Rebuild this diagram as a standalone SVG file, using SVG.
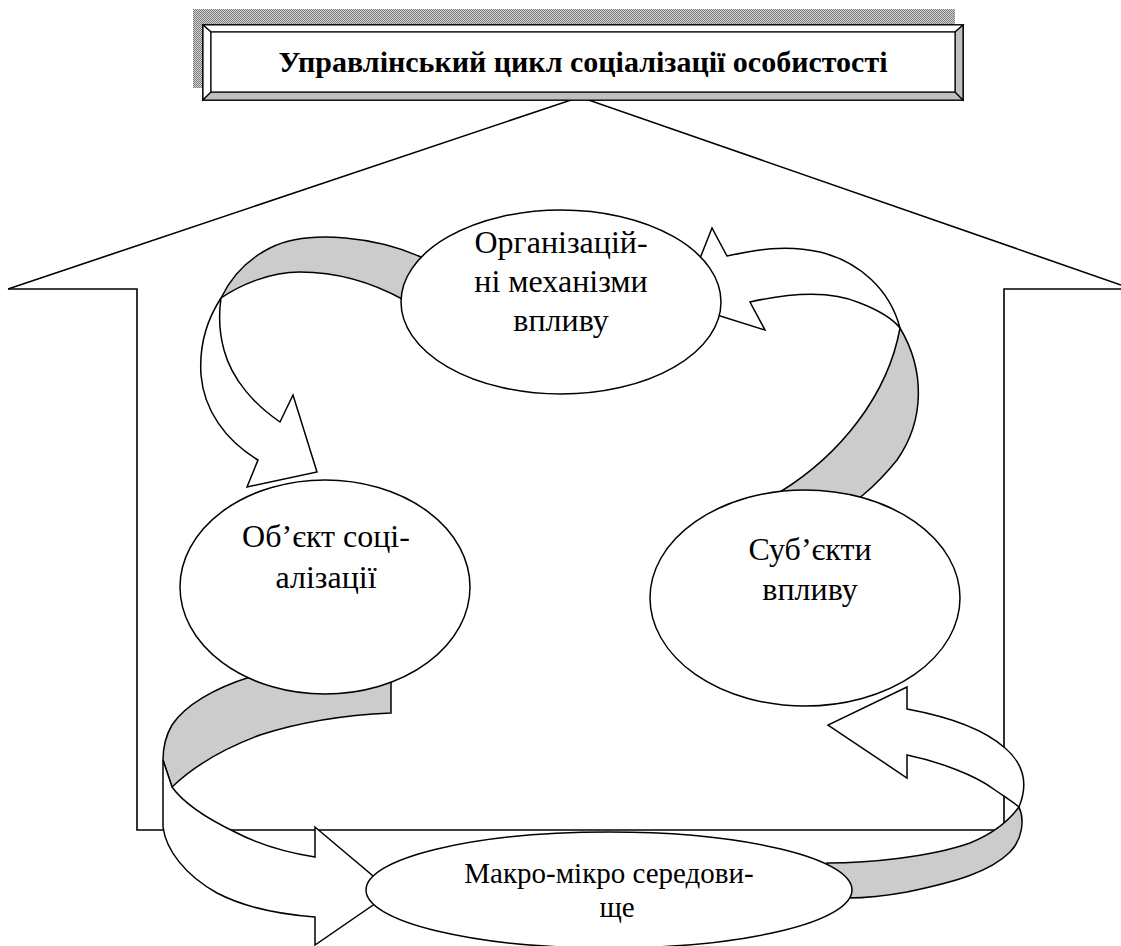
<svg xmlns="http://www.w3.org/2000/svg" width="1121" height="946" viewBox="0 0 1121 946">
<style>
.ln{fill:none;stroke:#000;stroke-width:1.6;stroke-linejoin:miter}
.band{fill:#fff;stroke:#000;stroke-width:1.5;stroke-linejoin:miter}
.back{fill:#cccccc;stroke:#000;stroke-width:1.5;stroke-linejoin:miter}
.node{fill:#fff;stroke:#000;stroke-width:1.5}
.t{font-family:"Liberation Serif","Times New Roman",serif;font-size:32px;fill:#000;text-anchor:middle}
.tt{font-family:"Liberation Serif","Times New Roman",serif;font-size:30px;font-weight:bold;fill:#000;text-anchor:middle}
.face{stroke:#000;stroke-width:1.2}
</style>
<defs>
<pattern id="dots" width="2" height="2" patternUnits="userSpaceOnUse">
<rect width="2" height="2" fill="#d6d6d6"/>
<rect width="1" height="1" fill="#7a7a7a"/>
<rect x="1" y="1" width="1" height="1" fill="#7a7a7a"/>
</pattern>
</defs>
<rect width="1121" height="946" fill="#fff"/>

<g id="house">
<path class="ln" d="M8,289 L580,97 L1121,285"/>
<path class="ln" d="M8,289 L137,289 L137,830 L1004,830 L1004,289 L1121,289"/>
</g>

<g id="title">
<rect x="193" y="9" width="762" height="79" fill="url(#dots)"/>
<rect x="203" y="25" width="760" height="75" fill="#fff" stroke="#000" stroke-width="1.6"/>
<polygon class="face" points="203,25 963,25 955,32 211,32" fill="#fff"/>
<polygon class="face" points="203,25 211,32 211,92 203,100" fill="#fff"/>
<polygon class="face" points="203,100 211,92 955,92 963,100" fill="#c0c0c0"/>
<polygon class="face" points="963,25 963,100 955,92 955,32" fill="#c0c0c0"/>
<rect x="211" y="32" width="744" height="60" fill="#fff" stroke="#000" stroke-width="1.2"/>
<text class="tt" x="583" y="72">Управлінський цикл соціалізації особистості</text>
</g>

<g id="connectors">
<g id="arrow-org-obj">
<path class="back" d="M425,262 L423,258 C380,238 310,228 270,248 C250,258 232,275 221,298 C240,285 270,272 300,272 C340,272 375,284 404,300 L430,305 Z"/>
<path class="band" d="M221,298 C208,318 199,345 201,375 C204,410 225,440 258,460 L247,487 L317,472 L293,395 L280,422 C255,405 232,380 224,350 C219,332 219,312 221,298 Z"/>
</g>
<g id="arrow-sub-org">
<path class="back" d="M790,500 L780,492 C840,455 888,395 900,328 C925,370 925,420 897,460 C885,475 875,485 863,495 L850,505 Z"/>
<path class="band" d="M900,328 C890,290 860,262 820,252 C785,244 755,250 727,256 L712,228 L682,304 L765,330 L750,302 C790,293 830,290 860,303 C878,310 892,318 900,328 Z"/>
</g>
<g id="arrow-obj-env">
<path class="back" d="M255,670 L250,677 C215,688 185,705 172,725 C165,737 163,750 163,760 L172,787 C195,765 225,748 260,735 C300,722 345,715 391,713 L391,680 Z"/>
<path class="band" d="M163,760 L163,827 C166,850 185,875 217,893 C240,905 275,914 315,917 L315,945 L392,892 L315,827 L315,857 C290,853 260,845 235,832 C210,820 185,805 172,787 Z"/>
</g>
<g id="arrow-env-sub">
<path class="back" d="M820,870 L827,863 C870,863 930,857 970,843 C990,835 1008,822 1019,807 C1025,820 1022,840 1010,852 C990,872 955,882 907,892 C885,896 865,898 848,898 Z"/>
<path class="band" d="M1019,807 C1028,785 1025,765 1005,748 C985,730 950,717 907,709 L907,687 L828,725 L907,778 L907,755 C940,762 975,775 995,790 C1005,797 1013,802 1019,807 Z"/>
</g>
</g>

<g id="node-org">
<ellipse class="node" cx="561" cy="302" rx="160" ry="92"/>
<text class="t" x="561" y="253">Організацій-</text>
<text class="t" x="561" y="292">ні механізми</text>
<text class="t" x="561" y="331">впливу</text>
</g>
<g id="node-obj">
<ellipse class="node" cx="325" cy="587" rx="145" ry="107"/>
<text class="t" x="326" y="547">Об’єкт соці-</text>
<text class="t" x="326" y="588">алізації</text>
</g>
<g id="node-sub">
<ellipse class="node" cx="805" cy="598" rx="155" ry="108"/>
<text class="t" x="810" y="560">Суб’єкти</text>
<text class="t" x="810" y="600">впливу</text>
</g>
<g id="node-env">
<ellipse class="node" cx="609" cy="890" rx="243" ry="58"/>
<text class="t" x="609" y="883" style="font-size:29px">Макро-мікро середови-</text>
<text class="t" x="617" y="917" style="font-size:29px">ще</text>
</g>
</svg>
